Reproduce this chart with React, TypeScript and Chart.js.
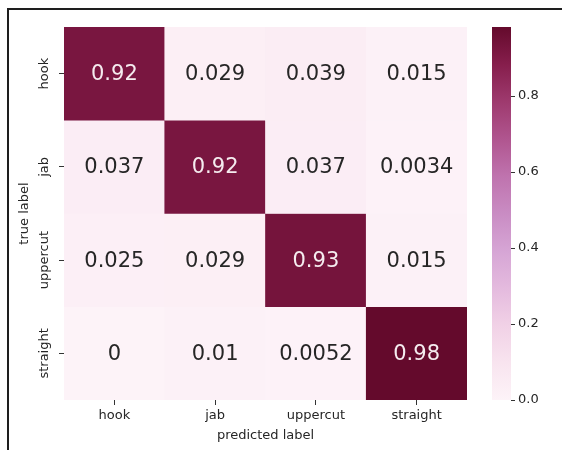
import React, { useEffect, useRef } from "react";
import { Chart, registerables } from "chart.js";

Chart.register(...registerables);

// ---- data ----
const PREDICTED_LABELS = ["hook", "jab", "uppercut", "straight"];
const TRUE_LABELS = ["hook", "jab", "uppercut", "straight"];
const ROW_HOOK = [0.92, 0.029, 0.039, 0.015];
const ROW_JAB = [0.037, 0.92, 0.037, 0.0034];
const ROW_UPPERCUT = [0.025, 0.029, 0.93, 0.015];
const ROW_STRAIGHT = [0, 0.01, 0.0052, 0.98];
const MATRIX = [ROW_HOOK, ROW_JAB, ROW_UPPERCUT, ROW_STRAIGHT];
const COLORBAR_TICKS = [0, 0.2, 0.4, 0.6, 0.8];
const COLOR_MIN = 0;
const COLOR_MAX = 0.98;

// colormap stops (fraction of range, colour)
const CMAP_STOPS: [number, string][] = [
  [0.0, "#fdf3f8"],
  [0.1, "#f8e4ef"],
  [0.2, "#f1d1e6"],
  [0.3, "#e4bade"],
  [0.4, "#d6a5d5"],
  [0.5, "#c98cc3"],
  [0.6, "#bf73ae"],
  [0.7, "#b0558f"],
  [0.8, "#9e3a6e"],
  [0.9, "#861e4c"],
  [1.0, "#640a2c"],
];

const FONT = "'DejaVu Sans', sans-serif";

function hexToRgb(h: string) {
  const n = parseInt(h.slice(1), 16);
  return [(n >> 16) & 255, (n >> 8) & 255, n & 255];
}

function colorFor(v: number) {
  const t = Math.max(0, Math.min(1, (v - COLOR_MIN) / (COLOR_MAX - COLOR_MIN)));
  for (let i = 0; i < CMAP_STOPS.length - 1; i++) {
    const [p0, c0] = CMAP_STOPS[i];
    const [p1, c1] = CMAP_STOPS[i + 1];
    if (t >= p0 && t <= p1) {
      const f = (t - p0) / (p1 - p0);
      const a = hexToRgb(c0);
      const b = hexToRgb(c1);
      const r = a.map((x, k) => Math.round(x + (b[k] - x) * f));
      return `rgb(${r[0]},${r[1]},${r[2]})`;
    }
  }
  return CMAP_STOPS[CMAP_STOPS.length - 1][1];
}

function fmt(v: number) {
  return String(Number(v.toPrecision(2)));
}

const annotatePlugin = {
  id: "annotate",
  afterDatasetsDraw(chart: any) {
    const ctx = chart.ctx;
    ctx.save();
    ctx.font = `21px ${FONT}`;
    ctx.textAlign = "center";
    ctx.textBaseline = "middle";
    chart.data.datasets.forEach((ds: any, i: number) => {
      const meta = chart.getDatasetMeta(i);
      meta.data.forEach((el: any, j: number) => {
        const v = ds.values[j];
        const cy = (el.y + el.base) / 2;
        ctx.fillStyle = v > 0.5 ? "#f5ecef" : "#262626";
        ctx.fillText(fmt(v), el.x, cy + 1);
      });
    });
    ctx.restore();
  },
};

const colorbarPlugin = {
  id: "colorbar",
  afterDraw(chart: any) {
    const cb = chart.scales.cb;
    const ctx = chart.ctx;
    const x0 = cb.left + 25;
    const w = 19;
    const yTop = cb.getPixelForValue(COLOR_MAX);
    const yBot = cb.getPixelForValue(COLOR_MIN);
    const g = ctx.createLinearGradient(0, yBot, 0, yTop);
    CMAP_STOPS.forEach(([p, c]) => g.addColorStop(p, c));
    ctx.save();
    ctx.fillStyle = g;
    ctx.fillRect(x0, yTop, w, yBot - yTop);
    ctx.strokeStyle = "#333";
    ctx.lineWidth = 1;
    COLORBAR_TICKS.forEach((t) => {
      const y = Math.round(cb.getPixelForValue(t)) + 0.5;
      ctx.beginPath();
      ctx.moveTo(x0 + w, y);
      ctx.lineTo(x0 + w + 4, y);
      ctx.stroke();
    });
    ctx.restore();
  },
};

export default function App() {
  const ref = useRef<HTMLCanvasElement | null>(null);

  useEffect(() => {
    if (!ref.current) return;
    const tickFont = { family: FONT, size: 13 };
    const chart = new Chart(ref.current, {
      type: "bar",
      data: {
        labels: PREDICTED_LABELS,
        datasets: MATRIX.map((row, i) => ({
          label: TRUE_LABELS[i],
          data: row.map(() => 1),
          values: row,
          backgroundColor: row.map(colorFor),
          borderWidth: 0,
          barPercentage: 1,
          categoryPercentage: 1,
          yAxisID: "y",
        })) as any,
      },
      options: {
        responsive: false,
        animation: false,
        layout: { padding: { left: 0, top: 27, right: 0, bottom: 0 } },
        plugins: { legend: { display: false }, tooltip: { enabled: false } },
        scales: {
          x: {
            stacked: true,
            offset: true,
            grid: {
              offset: false,
              drawOnChartArea: false,
              drawTicks: true,
              tickLength: 5,
              tickColor: "#333",
            },
            border: { display: false },
            ticks: { color: "#262626", font: tickFont, padding: 3 },
            title: {
              display: true,
              text: "predicted label",
              color: "#262626",
              font: tickFont,
              padding: { top: 0, bottom: 7 },
            },
            afterFit: (s: any) => {
              s.height = 50;
            },
          },
          y: {
            type: "linear",
            stacked: true,
            reverse: true,
            min: 0,
            max: 4,
            position: "left",
            afterBuildTicks: (s: any) => {
              s.ticks = TRUE_LABELS.map((_, i) => ({ value: i + 0.5 }));
            },
            grid: {
              drawOnChartArea: false,
              drawTicks: true,
              tickLength: 5,
              tickColor: "#333",
            },
            border: { display: false },
            ticks: {
              callback: (v: any) => TRUE_LABELS[Math.floor(Number(v))],
              minRotation: 90,
              maxRotation: 90,
              crossAlign: "center",
              padding: -15,
              color: "#262626",
              font: tickFont,
            },
            title: {
              display: true,
              text: "true label",
              color: "#262626",
              font: tickFont,
              padding: { top: 17, bottom: 0 },
            },
            afterFit: (s: any) => {
              s.width = 64;
            },
          },
          cb: {
            type: "linear",
            position: "right",
            min: COLOR_MIN,
            max: COLOR_MAX,
            afterBuildTicks: (s: any) => {
              s.ticks = COLORBAR_TICKS.map((v) => ({ value: v }));
            },
            grid: {
              drawOnChartArea: false,
              drawTicks: true,
              tickLength: 47,
              tickColor: "rgba(0,0,0,0)",
            },
            border: { display: false },
            ticks: {
              callback: (v: any) => Number(v).toFixed(1),
              padding: 4,
              color: "#262626",
              font: tickFont,
            },
            afterFit: (s: any) => {
              s.width = 95;
            },
          },
        } as any,
      },
      plugins: [annotatePlugin, colorbarPlugin],
    });
    return () => chart.destroy();
  }, []);

  return (
    <>
      <div style={{ position: "fixed", left: 0, top: 0, width: 562, height: 450, background: "#fff" }}>
        <canvas ref={ref} width={562} height={450} style={{ display: "block" }} />
      </div>
      <div
        style={{
          position: "fixed",
          left: 7,
          top: 8,
          width: 700,
          height: 600,
          borderLeft: "2px solid #1e1e1e",
          borderTop: "2px solid #1e1e1e",
          pointerEvents: "none",
        }}
      />
    </>
  );
}
